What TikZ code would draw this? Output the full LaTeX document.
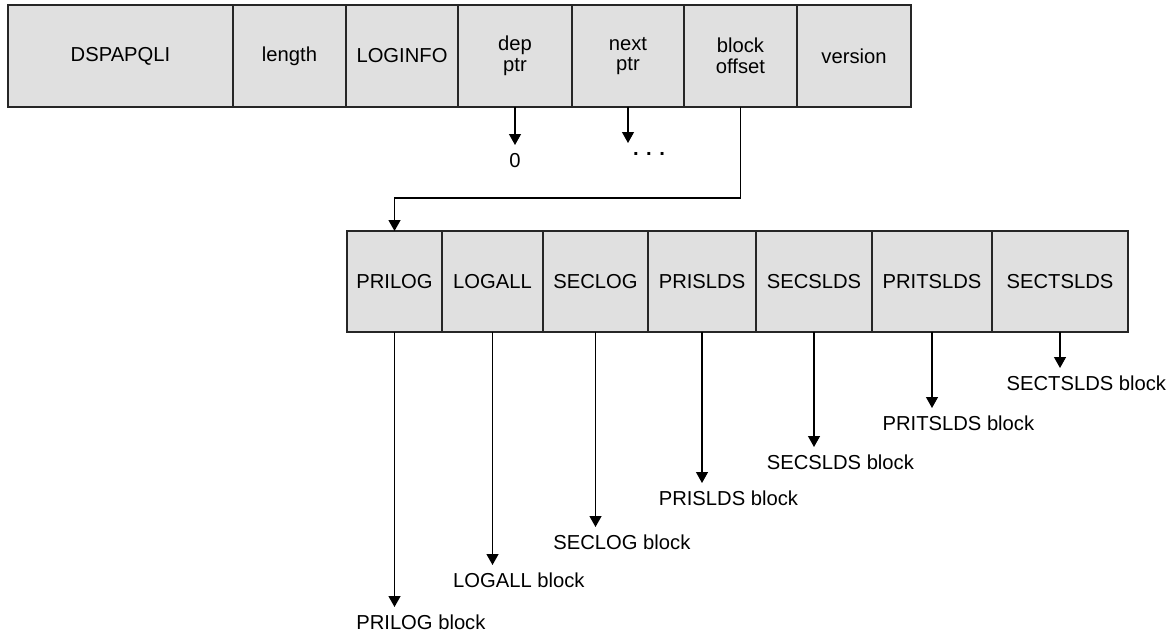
\documentclass[tikz,border=0pt]{standalone}
\usepackage{fontspec}
\setmainfont{Liberation Sans}
\usetikzlibrary{arrows.meta}

\begin{document}
\begin{tikzpicture}[x=0.02cm, y=-0.02cm, >={Triangle[length=0.22cm,width=0.24cm]},
    font=\fontsize{11.5}{11.8}\selectfont, line width=0.7pt]
  \tikzstyle{cell} = [draw=black!85, fill=black!12, outer sep=0pt, inner sep=2pt,
                      align=center]
  \tikzstyle{lbl} = [inner sep=4.5pt, outer sep=0pt, anchor=north]
  \useasboundingbox (0,0) rectangle (1172,635);

  % header record
  \node[cell, minimum width=4.5cm,  minimum height=2.04cm] (dsp)     at (120.5,56) {DSPAPQLI};
  \node[cell, minimum width=2.26cm, minimum height=2.04cm] (len)     at (289.5,56) {length};
  \node[cell, minimum width=2.24cm, minimum height=2.04cm] (loginfo) at (402,56)   {LOGINFO};
  \node[cell, minimum width=2.28cm, minimum height=2.04cm] (dep)     at (515,56)   {dep\\ptr};
  \node[cell, minimum width=2.24cm, minimum height=2.04cm] (nxt)     at (628,56)   {next\\ptr};
  \node[cell, minimum width=2.26cm, minimum height=2.04cm] (boff)    at (740.5,56) {block\\offset};
  \node[cell, minimum width=2.28cm, minimum height=2.04cm] (ver)     at (854,56)   {version};

  \node[lbl] (zero) at (515,145) {0};
  \draw[->] (dep.south) -- (zero.north);

  \coordinate (nxtend) at (628,143);
  \node[anchor=base] (dots) at (649,155) {\textbf{. . .}};
  \draw[->] (nxt.south) -- (nxtend);

  % block offset table
  \node[cell, minimum width=1.9cm,  minimum height=2.02cm] (prilog)   at (394.5,281.5) {PRILOG};
  \node[cell, minimum width=2.02cm, minimum height=2.02cm] (logall)   at (492.5,281.5) {LOGALL};
  \node[cell, minimum width=2.1cm,  minimum height=2.02cm] (seclog)   at (595.5,281.5) {SECLOG};
  \node[cell, minimum width=2.16cm, minimum height=2.02cm] (prislds)  at (702,281.5)   {PRISLDS};
  \node[cell, minimum width=2.32cm, minimum height=2.02cm] (secslds)  at (814,281.5)   {SECSLDS};
  \node[cell, minimum width=2.4cm,  minimum height=2.02cm] (pritslds) at (932,281.5)   {PRITSLDS};
  \node[cell, minimum width=2.72cm, minimum height=2.02cm] (sectslds) at (1060,281.5)  {SECTSLDS};

  \coordinate (turn) at (740.5,198);
  \draw[->] (boff.south) -- (turn) -| (prilog.north);

  % pointed-to blocks
  \node[lbl] (prilogb)   at (394.5,607) {PRILOG\rlap{ block}};
  \node[lbl] (logallb)   at (492.5,565) {LOGALL\rlap{ block}};
  \node[lbl] (seclogb)   at (595.5,527) {SECLOG\rlap{ block}};
  \node[lbl] (prisldsb)  at (702,483)   {PRISLDS\rlap{ block}};
  \node[lbl] (secsldsb)  at (814,447)   {SECSLDS\rlap{ block}};
  \node[lbl] (pritsldsb) at (932,408)   {PRITSLDS\rlap{ block}};
  \node[lbl] (sectsldsb) at (1060,368)  {SECTSLDS\rlap{ block}};

  \draw[->] (prilog.south)   -- (prilogb.north);
  \draw[->] (logall.south)   -- (logallb.north);
  \draw[->] (seclog.south)   -- (seclogb.north);
  \draw[->] (prislds.south)  -- (prisldsb.north);
  \draw[->] (secslds.south)  -- (secsldsb.north);
  \draw[->] (pritslds.south) -- (pritsldsb.north);
  \draw[->] (sectslds.south) -- (sectsldsb.north);
\end{tikzpicture}
\end{document}
